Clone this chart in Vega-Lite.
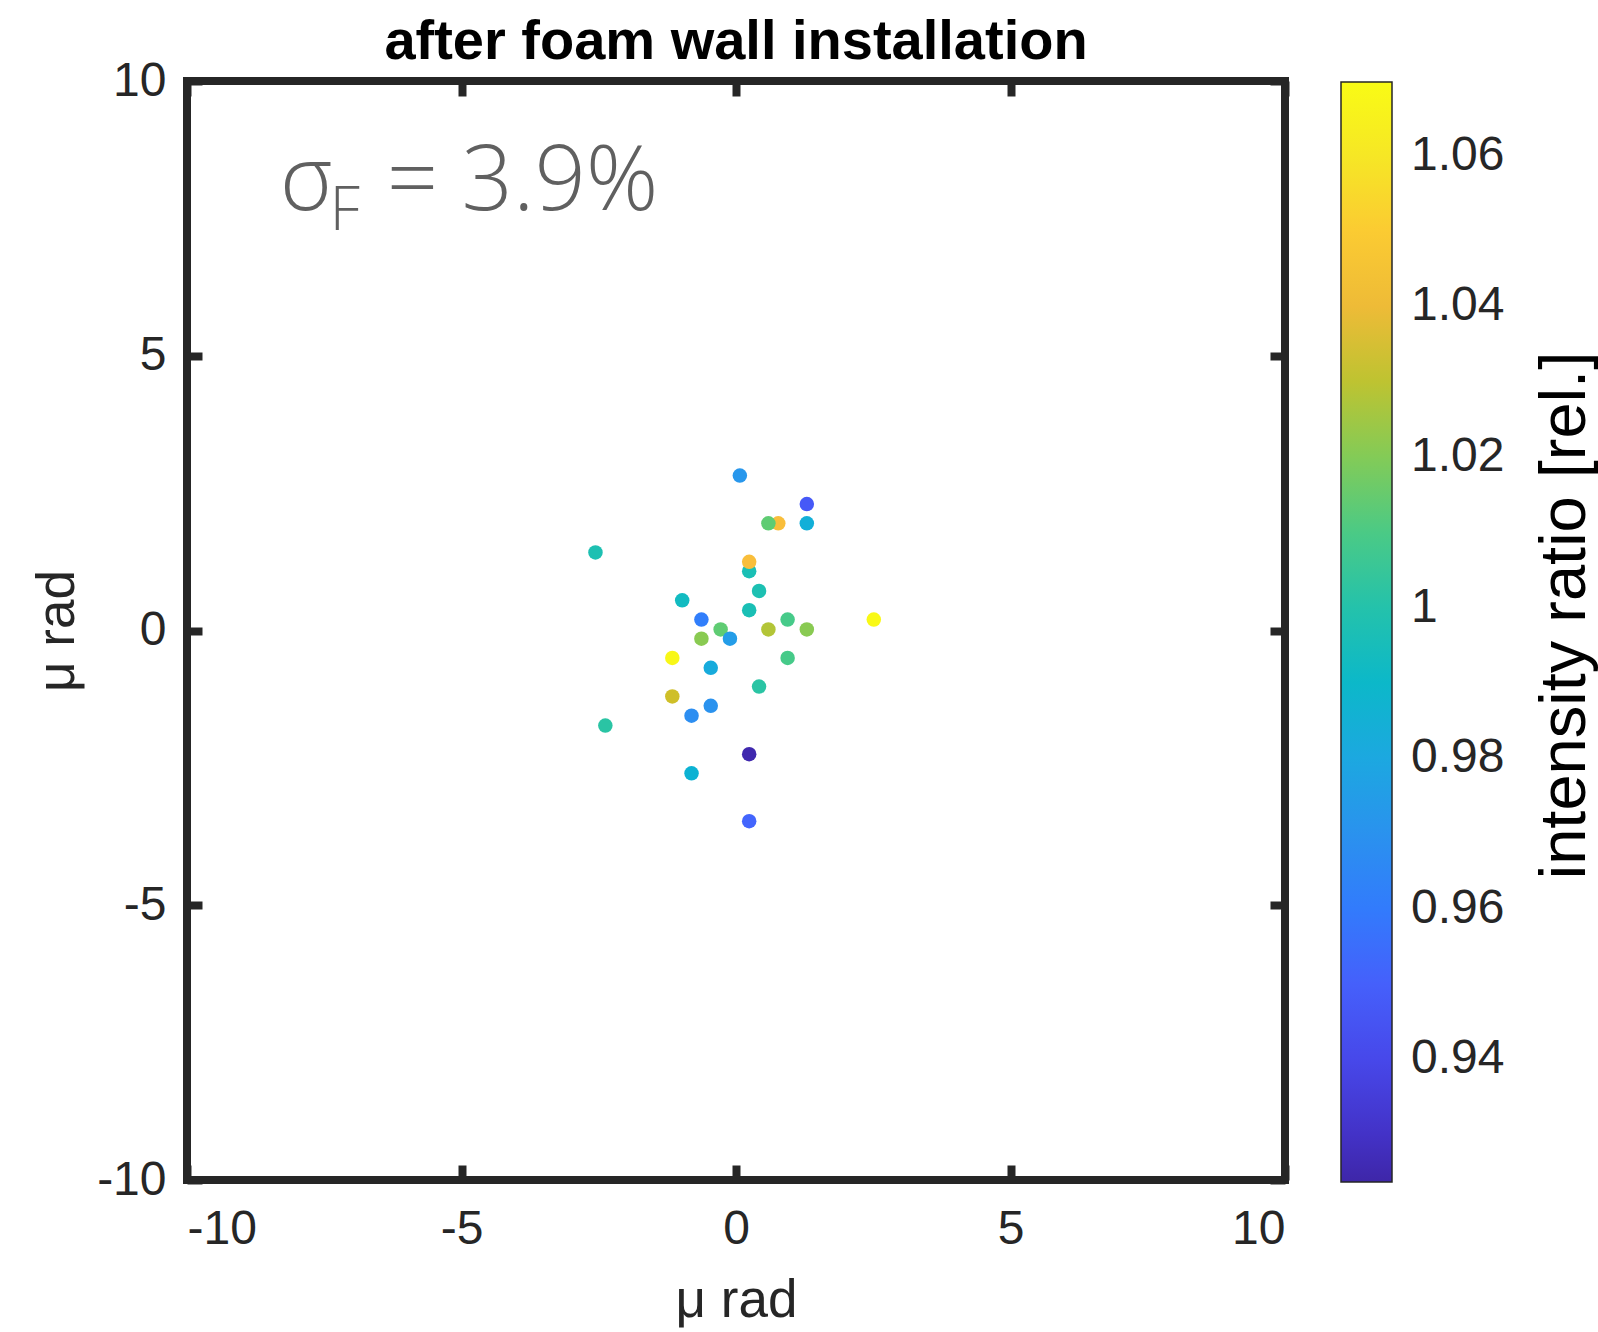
{
  "$schema": "https://vega.github.io/schema/vega-lite/v6.json",
  "autosize": "none",
  "width": 1098,
  "height": 1099,
  "padding": {"left": 187, "top": 81, "right": 313, "bottom": 152},
  "background": "white",
  "title": {
    "text": "after foam wall installation",
    "font": "Liberation Sans",
    "fontSize": 56,
    "fontWeight": "bold",
    "color": "#000000",
    "anchor": "middle",
    "frame": "group",
    "baseline": "alphabetic",
    "offset": -58
  },
  "config": {
    "view": {"stroke": "#262626", "strokeWidth": 8},
    "axis": {
      "domain": false,
      "grid": false,
      "tickColor": "#262626",
      "tickWidth": 8,
      "tickSize": -15,
      "labelFont": "Liberation Sans",
      "labelFontSize": 48,
      "labelColor": "#262626",
      "labelExpr": "datum.value < 0 ? '-' + abs(datum.value) : '' + datum.value",
      "titleFont": "Liberation Sans",
      "titleFontSize": 53,
      "titleFontWeight": "normal",
      "titleColor": "#262626"
    }
  },
  "datasets": {
    "pts": [
      {"x": 0.07, "y": 2.82, "r": 0.972},
      {"x": 1.29, "y": 2.30, "r": 0.947},
      {"x": 0.77, "y": 1.95, "r": 1.044},
      {"x": 0.59, "y": 1.95, "r": 1.014},
      {"x": 1.29, "y": 1.95, "r": 0.984},
      {"x": -2.56, "y": 1.42, "r": 0.998},
      {"x": 0.24, "y": 1.08, "r": 0.997},
      {"x": 0.24, "y": 1.25, "r": 1.044},
      {"x": 0.42, "y": 0.72, "r": 0.998},
      {"x": -0.98, "y": 0.55, "r": 0.993},
      {"x": 0.24, "y": 0.37, "r": 0.997},
      {"x": -0.63, "y": 0.20, "r": 0.961},
      {"x": 0.94, "y": 0.20, "r": 1.009},
      {"x": 2.51, "y": 0.20, "r": 1.069},
      {"x": -0.28, "y": 0.02, "r": 1.014},
      {"x": 0.59, "y": 0.02, "r": 1.028},
      {"x": 1.29, "y": 0.02, "r": 1.021},
      {"x": -0.63, "y": -0.15, "r": 1.021},
      {"x": -0.11, "y": -0.15, "r": 0.975},
      {"x": -1.16, "y": -0.50, "r": 1.068},
      {"x": 0.94, "y": -0.50, "r": 1.009},
      {"x": -0.46, "y": -0.68, "r": 0.982},
      {"x": 0.42, "y": -1.02, "r": 1.002},
      {"x": -1.16, "y": -1.20, "r": 1.033},
      {"x": -0.46, "y": -1.37, "r": 0.970},
      {"x": -0.81, "y": -1.55, "r": 0.968},
      {"x": -2.38, "y": -1.73, "r": 1.002},
      {"x": 0.24, "y": -2.25, "r": 0.925},
      {"x": -0.81, "y": -2.60, "r": 0.986},
      {"x": 0.24, "y": -3.47, "r": 0.952}
    ]
  },
  "resolve": {"axis": {"x": "independent", "y": "independent"}},
  "layer": [
    {
      "data": {"name": "pts"},
      "mark": {"type": "circle", "size": 210, "opacity": 1},
      "encoding": {
        "x": {
          "field": "x", "type": "quantitative",
          "scale": {"domain": [-10, 10], "nice": false, "zero": false},
          "axis": {"orient": "bottom", "values": [-10, -5, 0, 5, 10], "title": "μ rad", "labelPadding": 40, "titlePadding": 21}
        },
        "y": {
          "field": "y", "type": "quantitative",
          "scale": {"domain": [-10, 10], "nice": false, "zero": false},
          "axis": {"orient": "left", "values": [-10, -5, 0, 5, 10], "title": "μ rad", "labelPadding": 36, "titlePadding": 12}
        },
        "color": {
          "field": "r", "type": "quantitative",
          "scale": {
            "domain": [0.9237, 1.0698],
            "range": ["#3e26a8", "#4537d5", "#484df0", "#4563fd", "#327cfc", "#2b91ef", "#20a5e3", "#08b5d0", "#19bfb6", "#37c897", "#64cd6f", "#9dc943", "#d1bf27", "#f8ba3d", "#fccf30", "#f5e924", "#f9fb15"],
            "interpolate": "rgb"
          },
          "legend": {
            "orient": "none",
            "legendX": 1154,
            "legendY": 1,
            "direction": "vertical",
            "gradientLength": 1100,
            "gradientThickness": 51,
            "gradientStrokeColor": "#262626",
            "gradientStrokeWidth": 1.5,
            "values": [0.94, 0.96, 0.98, 1, 1.02, 1.04, 1.06],
            "format": ".3~g",
            "labelFont": "Liberation Sans",
            "labelFontSize": 48,
            "labelColor": "#262626",
            "labelOffset": 19,
            "labelOverlap": false,
            "title": null
          }
        }
      }
    },
    {
      "data": {"values": [{}]},
      "mark": {"type": "text", "text": "σ", "font": "Open Sans", "fontWeight": 300, "fontSize": 90, "color": "#606060", "align": "left", "baseline": "alphabetic"},
      "encoding": {
        "x": {"datum": -8.31, "type": "quantitative", "scale": {"domain": [-10, 10], "nice": false, "zero": false},
          "axis": {"orient": "top", "values": [-10, -5, 0, 5, 10], "labels": false, "title": null}},
        "y": {"datum": 7.65, "type": "quantitative", "scale": {"domain": [-10, 10], "nice": false, "zero": false},
          "axis": {"orient": "right", "values": [-10, -5, 0, 5, 10], "labels": false,
            "title": "intensity ratio [rel.]", "titleFontSize": 65, "titleColor": "#000000",
            "titleAngle": 270, "titleX": 279, "titleY": 534, "titleAlign": "center", "titleBaseline": "middle", "titleLimit": 2000}}
      }
    },
    {
      "data": {"values": [{}]},
      "mark": {"type": "text", "text": "F", "font": "Open Sans", "fontWeight": 300, "fontSize": 60, "color": "#606060", "align": "left", "baseline": "alphabetic"},
      "encoding": {
        "x": {"datum": -7.4, "type": "quantitative", "axis": null},
        "y": {"datum": 7.29, "type": "quantitative", "axis": null}
      }
    },
    {
      "data": {"values": [{}]},
      "mark": {"type": "text", "text": "= 3.9%", "font": "Open Sans", "fontWeight": 300, "fontSize": 90, "color": "#606060", "align": "left", "baseline": "alphabetic"},
      "encoding": {
        "x": {"datum": -6.36, "type": "quantitative", "axis": null},
        "y": {"datum": 7.65, "type": "quantitative", "axis": null}
      }
    }
  ]
}
